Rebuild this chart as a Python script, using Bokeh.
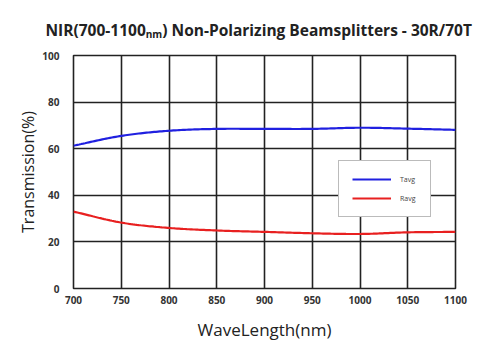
import numpy as np
from bokeh.plotting import figure
from bokeh.models import Range1d, FixedTicker, Legend, LegendItem, Title
from bokeh.embed import file_html
from bokeh.resources import INLINE

wavelength = [700, 750, 800, 850, 900, 950, 1000, 1050, 1100]
tavg = [61.3, 65.5, 67.7, 68.5, 68.5, 68.5, 69.0, 68.6, 68.1]
ravg = [33.0, 28.3, 26.0, 24.9, 24.3, 23.7, 23.4, 24.1, 24.3]
x_ticks = [700, 750, 800, 850, 900, 950, 1000, 1050, 1100]
y_ticks = [0, 20, 40, 60, 80, 100]

W, H = 499, 355
FL, FR, FT, FB = 73, 455, 55, 288

p = figure(width=W, height=H, output_backend="svg", toolbar_location=None,
           x_range=Range1d(700, 1100), y_range=Range1d(0, 100),
           min_border_left=FL, min_border_right=W - FR,
           min_border_top=FT, min_border_bottom=H - FB)
p.background_fill_color = "white"
p.border_fill_color = "white"
p.outline_line_color = "#222222"
p.outline_line_width = 1.6

for ax in (p.xaxis[0], p.yaxis[0]):
    ax.major_tick_out = 0
    ax.major_tick_in = 0
    ax.minor_tick_out = 0
    ax.minor_tick_in = 0
    ax.axis_line_color = None
    ax.major_label_text_font = "Open Sans"
    ax.major_label_text_font_style = "bold"
    ax.major_label_text_font_size = "10px"
    ax.major_label_text_color = "#333333"
    ax.axis_label_text_font = "Open Sans"
    ax.axis_label_text_font_style = "normal"
    ax.axis_label_text_color = "#222222"
p.xaxis.axis_label_text_font_size = "17px"
p.yaxis.axis_label_text_font_size = "16px"
p.xaxis.ticker = FixedTicker(ticks=x_ticks)
p.yaxis.ticker = FixedTicker(ticks=y_ticks)
p.xaxis.major_label_standoff = 7
p.yaxis.major_label_standoff = 14
p.xaxis.axis_label = "WaveLength(nm)"
p.yaxis.axis_label = "Transmission(%)"
p.xaxis.axis_label_standoff = 11
p.yaxis.axis_label_standoff = 0

p.xgrid.ticker = FixedTicker(ticks=x_ticks)
p.ygrid.ticker = FixedTicker(ticks=y_ticks)
for g in (p.xgrid[0], p.ygrid[0]):
    g.grid_line_color = "#222222"
    g.grid_line_width = 1.6

xs = np.array(wavelength, dtype=float)
def smooth(vals):
    xx = np.linspace(700, 1100, 200)
    v = np.array(vals, dtype=float)
    m = np.gradient(v, xs)
    out = []
    for x in xx:
        i = min(int((x - 700) // 50), len(xs) - 2)
        h = xs[i + 1] - xs[i]
        t = (x - xs[i]) / h
        h00 = 2*t**3 - 3*t**2 + 1
        h10 = t**3 - 2*t**2 + t
        h01 = -2*t**3 + 3*t**2
        h11 = t**3 - t**2
        out.append(h00*v[i] + h10*h*m[i] + h01*v[i+1] + h11*h*m[i+1])
    return xx, np.array(out)

tx, ty = smooth(tavg)
rx, ry = smooth(ravg)
lt = p.line(tx, ty, line_color="#2020e0", line_width=2.2)
lr = p.line(rx, ry, line_color="#e82020", line_width=2.2)

legend = Legend(items=[LegendItem(label="Tavg", renderers=[lt]),
                       LegendItem(label="Ravg", renderers=[lr])],
                location=(265, 71))
legend.border_line_color = "#777777"
legend.border_line_width = 1
legend.background_fill_alpha = 1
legend.label_text_font = "Open Sans"
legend.label_text_font_size = "7px"
legend.label_text_color = "#444444"
legend.glyph_width = 39
legend.glyph_height = 10
legend.label_height = 10
legend.label_width = 17
legend.label_standoff = 9
legend.spacing = 9
legend.padding = 13
legend.margin = 0
p.add_layout(legend, "center")

title = Title(text="NIR(700-1100\u2099\u2098)  Non-Polarizing Beamsplitters - 30R/70T",
              align="left", offset=-28, text_font="Open Sans",
              text_font_size="15.5px", text_font_style="bold", text_color="#222222",
              standoff=30)
p.add_layout(title, "above")

html = file_html(p, INLINE)
open("out.html", "w").write(html)
